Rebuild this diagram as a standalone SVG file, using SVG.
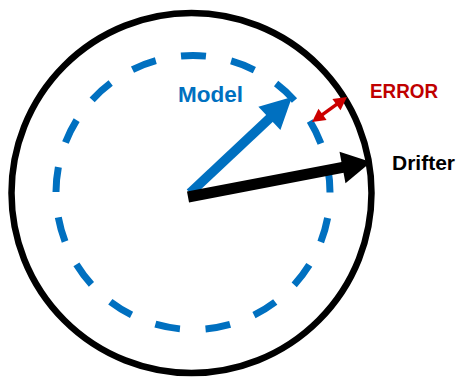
<svg xmlns="http://www.w3.org/2000/svg" width="459" height="378" viewBox="0 0 459 378">
  <style>
    .lbl { font-family: "Liberation Sans", Arial, sans-serif; font-weight: bold; }
    .blue { fill: #0070C0; }
    .red { fill: #C00000; }
    .blk { fill: #000000; }
  </style>
  <rect width="459" height="378" fill="#ffffff"/>
  <g id="drifter-circle">
    <circle cx="191.5" cy="193" r="180" fill="none" stroke="#000000" stroke-width="6.5"/>
  </g>
  <g id="model-circle">
    <circle cx="193" cy="192.5" r="137" fill="none" stroke="#0070C0" stroke-width="7" stroke-dasharray="25 25.64" stroke-dashoffset="25"/>
  </g>
  <g id="connectors">
    <g id="model-arrow">
      <line x1="190" y1="193" x2="271" y2="117" stroke="#0070C0" stroke-width="9.5"/>
      <polygon points="292,97 280.4,129.9 258.4,106.7" class="blue"/>
    </g>
    <g id="drifter-arrow">
      <line x1="188" y1="197" x2="344" y2="167.2" stroke="#000000" stroke-width="11"/>
      <polygon points="371,162 345.5,183.2 339.5,151.8" class="blk"/>
    </g>
    <g id="error-arrow">
      <line x1="321" y1="115.6" x2="338" y2="103.4" stroke="#CC0000" stroke-width="3.5"/>
      <polygon points="347,97 340.5,110.2 332.4,98.9" fill="#CC0000"/>
      <polygon points="312,122 326.6,120.1 318.5,108.8" fill="#CC0000"/>
    </g>
  </g>
  <g id="label-model">
    <text x="178" y="102" class="lbl blue" font-size="22" textLength="65" lengthAdjust="spacingAndGlyphs">Model</text>
  </g>
  <g id="label-error">
    <text x="370" y="98" class="lbl red" font-size="20" textLength="68" lengthAdjust="spacingAndGlyphs">ERROR</text>
  </g>
  <g id="label-drifter">
    <text x="392" y="170" class="lbl blk" font-size="20.5" textLength="63" lengthAdjust="spacingAndGlyphs">Drifter</text>
  </g>
</svg>
